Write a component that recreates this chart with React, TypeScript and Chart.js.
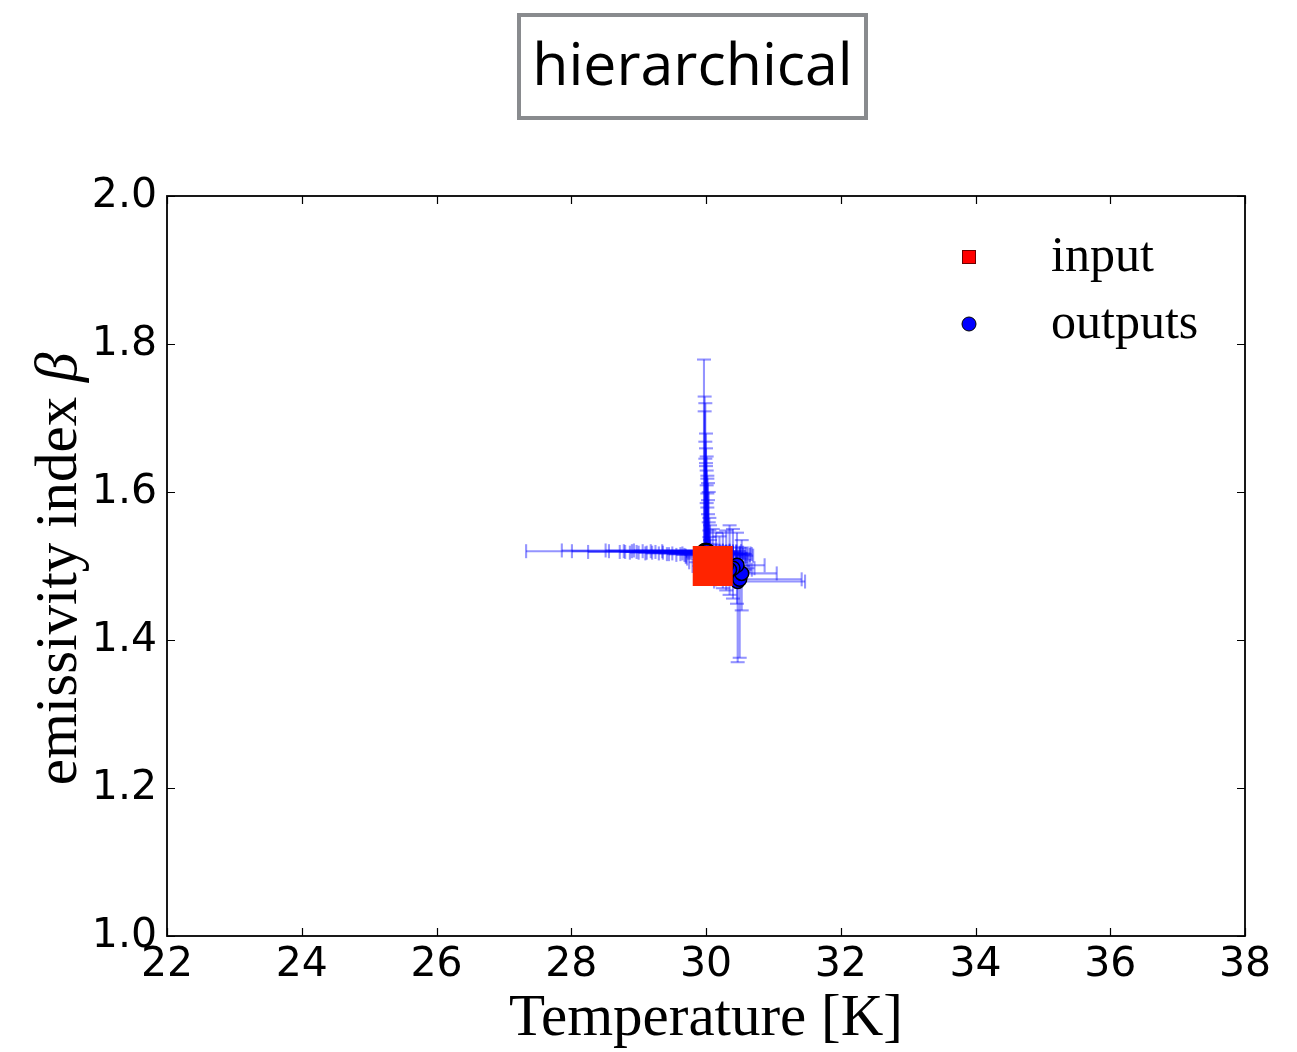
import React, { useEffect, useRef } from "react";
import { Chart, registerables } from "chart.js";

Chart.register(...registerables);

// ---------------- data ----------------
const titleText = "hierarchical";
const xAxisLabel = "Temperature [K]";
const yAxisLabel = "emissivity index ";
const yAxisSymbol = "β";
const seriesNames = ["input", "outputs"];

const xTicks = [22, 24, 26, 28, 30, 32, 34, 36, 38];
const yTicks = [1.0, 1.2, 1.4, 1.6, 1.8, 2.0];

const inputT = [30.1];
const inputBeta = [1.5];

const outT = [
  29.97, 29.98, 29.99, 29.98, 30.0, 29.99, 30.0, 30.01, 30.0, 30.01, 30.02,
  30.01, 30.02, 30.03, 30.02, 30.03, 30.04, 30.05, 30.05, 30.06, 30.07, 30.08,
  29.99, 30.0, 30.02, 30.03, 30.04, 30.01, 30.05, 30.06,
  30.47, 30.5, 30.53, 30.46, 30.4, 30.35, 30.3, 30.25, 30.2, 30.15, 30.1,
];
const outBeta = [
  1.52, 1.521, 1.52, 1.519, 1.521, 1.52, 1.519, 1.52, 1.518, 1.521, 1.519,
  1.52, 1.518, 1.52, 1.519, 1.517, 1.518, 1.516, 1.517, 1.515, 1.516, 1.514,
  1.519, 1.52, 1.518, 1.517, 1.518, 1.52, 1.516, 1.517,
  1.479, 1.482, 1.49, 1.501, 1.497, 1.495, 1.5, 1.505, 1.51, 1.512, 1.515,
];
const outTLow = [
  27.33, 27.86, 28.01, 28.25, 28.51, 28.56, 28.72, 28.78, 28.87, 28.93, 28.97,
  29.06, 29.12, 29.18, 29.25, 29.3, 29.36, 29.42, 29.5, 29.56, 29.62, 29.7,
  28.8, 28.9, 29.0, 29.1, 29.2, 29.35, 29.45, 29.65,
  30.12, 30.15, 30.2, 30.15, 29.95, 29.9, 29.8, 29.75, 29.72, 29.7, 29.68,
];
const outTHigh = [
  30.15, 30.2, 30.2, 30.22, 30.25, 30.25, 30.28, 30.3, 30.32, 30.35, 30.35,
  30.4, 30.4, 30.45, 30.45, 30.5, 30.55, 30.6, 30.62, 30.65, 30.68, 30.7,
  30.3, 30.35, 30.4, 30.45, 30.5, 30.52, 30.58, 30.66,
  31.47, 31.42, 31.05, 30.87, 30.72, 30.68, 30.65, 30.62, 30.6, 30.58, 30.55,
];
const outBetaLow = [
  1.5, 1.5, 1.5, 1.5, 1.5, 1.5, 1.5, 1.5, 1.5, 1.5, 1.5,
  1.5, 1.5, 1.5, 1.49, 1.49, 1.49, 1.49, 1.49, 1.49, 1.49, 1.49,
  1.5, 1.5, 1.5, 1.5, 1.49, 1.49, 1.49, 1.49,
  1.37, 1.376, 1.44, 1.449, 1.456, 1.461, 1.467, 1.47, 1.475, 1.478, 1.48,
];
const outBetaHigh = [
  1.779, 1.729, 1.72, 1.709, 1.679, 1.668, 1.659, 1.648, 1.639, 1.629, 1.618,
  1.609, 1.598, 1.589, 1.579, 1.57, 1.559, 1.548, 1.539, 1.535, 1.53, 1.528,
  1.645, 1.635, 1.622, 1.612, 1.6, 1.585, 1.565, 1.555,
  1.52, 1.525, 1.535, 1.545, 1.55, 1.555, 1.548, 1.545, 1.54, 1.545, 1.55,
];

// ---------------- styles ----------------
const W = 1297;
const H = 1052;
const SERIF = "'Liberation Serif', 'DejaVu Serif', serif";
const TICK_FONT = "'DejaVu Sans', sans-serif";

export default function App() {
  const ref = useRef<HTMLCanvasElement>(null);

  useEffect(() => {
    const canvas = ref.current;
    if (!canvas) return;

    const errorBars = {
      id: "errorBars",
      beforeDatasetsDraw(chart: any) {
        const { ctx, chartArea: a } = chart;
        const xs = chart.scales.x;
        const ys = chart.scales.y;
        ctx.save();
        ctx.beginPath();
        ctx.rect(a.left, a.top, a.right - a.left, a.bottom - a.top);
        ctx.clip();
        ctx.strokeStyle = "rgba(0,0,255,0.42)";
        ctx.lineWidth = 2.1;
        const cap = 7;
        const seg = (x1: number, y1: number, x2: number, y2: number) => {
          ctx.beginPath();
          ctx.moveTo(x1, y1);
          ctx.lineTo(x2, y2);
          ctx.stroke();
        };
        for (let i = 0; i < outT.length; i++) {
          const px = xs.getPixelForValue(outT[i]);
          const py = ys.getPixelForValue(outBeta[i]);
          const xl = xs.getPixelForValue(outTLow[i]);
          const xh = xs.getPixelForValue(outTHigh[i]);
          const yl = ys.getPixelForValue(outBetaLow[i]);
          const yh = ys.getPixelForValue(outBetaHigh[i]);
          seg(xl, py, xh, py);
          seg(xl, py - cap, xl, py + cap);
          seg(xh, py - cap, xh, py + cap);
          seg(px, yl, px, yh);
          seg(px - cap, yl, px + cap, yl);
          seg(px - cap, yh, px + cap, yh);
        }
        ctx.restore();
      },
    };

    const frame = {
      id: "frame",
      afterDraw(chart: any) {
        const { ctx, chartArea: a } = chart;
        const xs = chart.scales.x;
        const ys = chart.scales.y;
        ctx.save();
        // ticks (inward, all four sides)
        ctx.strokeStyle = "#000";
        ctx.lineWidth = 1.2;
        const tl = 8;
        xs.ticks.forEach((t: any) => {
          const px = Math.round(xs.getPixelForValue(t.value)) + 0.5;
          ctx.beginPath();
          ctx.moveTo(px, a.bottom);
          ctx.lineTo(px, a.bottom - tl);
          ctx.moveTo(px, a.top);
          ctx.lineTo(px, a.top + tl);
          ctx.stroke();
        });
        ys.ticks.forEach((t: any) => {
          const py = Math.round(ys.getPixelForValue(t.value)) + 0.5;
          ctx.beginPath();
          ctx.moveTo(a.left, py);
          ctx.lineTo(a.left + tl, py);
          ctx.moveTo(a.right, py);
          ctx.lineTo(a.right - tl, py);
          ctx.stroke();
        });
        // frame
        ctx.lineWidth = 1.8;
        ctx.strokeRect(a.left, a.top, a.right - a.left, a.bottom - a.top);

        // axis titles
        ctx.fillStyle = "#000";
        ctx.font = `59px ${SERIF}`;
        ctx.textAlign = "center";
        ctx.textBaseline = "alphabetic";
        ctx.fillText(xAxisLabel, (a.left + a.right) / 2, 1035);

        ctx.save();
        ctx.translate(76, (a.top + a.bottom) / 2 + 3);
        ctx.rotate(-Math.PI / 2);
        ctx.font = `59px ${SERIF}`;
        const w1 = ctx.measureText(yAxisLabel).width;
        ctx.font = `italic 59px ${SERIF}`;
        const w2 = ctx.measureText(yAxisSymbol).width;
        const start = -(w1 + w2) / 2;
        ctx.textAlign = "left";
        ctx.font = `59px ${SERIF}`;
        ctx.fillText(yAxisLabel, start, 0);
        ctx.font = `italic 59px ${SERIF}`;
        ctx.fillText(yAxisSymbol, start + w1, 0);
        ctx.restore();

        // legend
        const ds = chart.data.datasets;
        ctx.font = `50px ${SERIF}`;
        ctx.textAlign = "left";
        // input
        ctx.fillStyle = "#ff0000";
        ctx.strokeStyle = "#6a0000";
        ctx.lineWidth = 1;
        ctx.fillRect(962.5, 250.5, 13, 13);
        ctx.strokeRect(962.5, 250.5, 13, 13);
        ctx.fillStyle = "#000";
        ctx.fillText(ds[0].label, 1051, 271);
        // outputs
        ctx.beginPath();
        ctx.arc(969, 324, 7, 0, Math.PI * 2);
        ctx.fillStyle = "#0000ff";
        ctx.fill();
        ctx.strokeStyle = "#000";
        ctx.stroke();
        ctx.fillStyle = "#000";
        ctx.fillText(ds[1].label, 1051, 338);
        ctx.restore();
      },
    };

    const chart = new Chart(canvas, {
      type: "scatter",
      data: {
        datasets: [
          {
            label: seriesNames[0],
            data: inputT.map((t, i) => ({ x: t, y: inputBeta[i] })),
            pointStyle: "rect",
            pointRadius: 28.3,
            pointHoverRadius: 28.3,
            backgroundColor: "#ff2400",
            borderColor: "#ff2400",
            borderWidth: 0,
          },
          {
            label: seriesNames[1],
            data: outT.map((t, i) => ({ x: t, y: outBeta[i] })),
            pointStyle: "circle",
            pointRadius: 7,
            pointHoverRadius: 7,
            backgroundColor: "#0000ff",
            borderColor: "#000000",
            borderWidth: 1.5,
          },
        ],
      },
      options: {
        responsive: false,
        animation: false,
        devicePixelRatio: 1,
        layout: { padding: { left: 0, right: 52, top: 196, bottom: 0 } },
        plugins: {
          legend: { display: false },
          tooltip: { enabled: false },
          title: { display: false },
        },
        events: [],
        scales: {
          x: {
            type: "linear",
            min: xTicks[0],
            max: xTicks[xTicks.length - 1],
            afterBuildTicks: (s: any) => {
              s.ticks = xTicks.map((v) => ({ value: v }));
            },
            afterFit: (s: any) => {
              s.height = H - 936;
            },
            grid: { display: false, drawTicks: false },
            border: { display: false },
            ticks: {
              color: "#000",
              padding: 5,
              maxRotation: 0,
              autoSkip: false,
              font: { family: TICK_FONT, size: 41 },
              callback: (v: any) => String(v),
            },
          },
          y: {
            type: "linear",
            min: yTicks[0],
            max: yTicks[yTicks.length - 1],
            afterBuildTicks: (s: any) => {
              s.ticks = yTicks.map((v) => ({ value: v }));
            },
            afterFit: (s: any) => {
              s.width = 167;
            },
            grid: { display: false, drawTicks: false },
            border: { display: false },
            ticks: {
              color: "#000",
              padding: 10,
              autoSkip: false,
              font: { family: TICK_FONT, size: 41 },
              callback: (v: any) => Number(v).toFixed(1),
            },
          },
        },
      },
      plugins: [errorBars, frame],
    });

    return () => chart.destroy();
  }, []);

  return (
    <div style={{ position: "absolute", left: 0, top: 0, width: W, height: H, background: "#fff" }}>
      <canvas ref={ref} width={W} height={H} style={{ display: "block" }} />
      <div
        style={{
          position: "absolute",
          left: 517,
          top: 13,
          width: 351,
          height: 107,
          boxSizing: "border-box",
          border: "4px solid #898b8e",
          display: "flex",
          alignItems: "center",
          justifyContent: "center",
          paddingBottom: 8,
          fontFamily: "'Open Sans', sans-serif",
          fontSize: 59,
          lineHeight: 1,
          color: "#000",
        }}
      >
        {titleText}
      </div>
    </div>
  );
}
